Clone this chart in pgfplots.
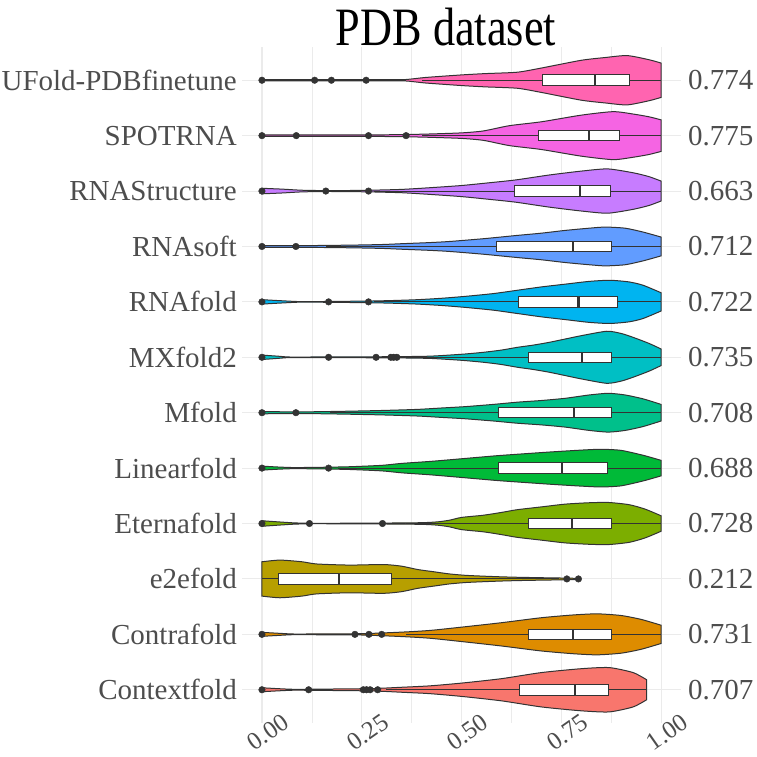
\documentclass[border=0pt]{standalone}
\usepackage{pgfplots}
\pgfplotsset{compat=1.18}
\usepackage{pgfplotstable}
\usepgfplotslibrary{fillbetween,statistics}
\usepackage{fontspec}
\setmainfont{Liberation Serif}
\definecolor{cA}{HTML}{F8766D}
\definecolor{cB}{HTML}{DE8C00}
\definecolor{cC}{HTML}{B79F00}
\definecolor{cD}{HTML}{7CAE00}
\definecolor{cE}{HTML}{00BA38}
\definecolor{cF}{HTML}{00C08B}
\definecolor{cG}{HTML}{00BFC4}
\definecolor{cH}{HTML}{00B4F0}
\definecolor{cI}{HTML}{619CFF}
\definecolor{cJ}{HTML}{C77CFF}
\definecolor{cK}{HTML}{F564E3}
\definecolor{cL}{HTML}{FF64B0}
\definecolor{txt}{HTML}{4D4D4D}
\definecolor{edge}{HTML}{333333}
\definecolor{gridc}{HTML}{EBEBEB}

% violin outlines: x, half-width w (in category units)
\pgfplotstableread{
x w
0 0.036
0.04 0.02
0.08 0.008
0.12 0.01
0.2 0.015
0.28 0.022
0.35 0.045
0.42 0.07
0.5 0.12
0.6 0.2
0.7 0.31
0.8 0.38
0.87 0.40
0.93 0.31
0.964 0.18
}\vA
\pgfplotstableread{
x w
0 0.036
0.04 0.02
0.08 0.006
0.15 0.008
0.25 0.012
0.35 0.04
0.42 0.07
0.5 0.13
0.6 0.21
0.7 0.30
0.78 0.35
0.84 0.37
0.9 0.34
0.95 0.27
1.0 0.165
}\vB
\pgfplotstableread{
x w
0 0.31
0.045 0.34
0.1 0.31
0.137 0.27
0.22 0.25
0.305 0.26
0.35 0.23
0.39 0.17
0.43 0.13
0.47 0.09
0.51 0.065
0.555 0.05
0.6 0.038
0.64 0.03
0.7 0.022
0.755 0.016
0.793 0.01
}\vC
\pgfplotstableread{
x w
0 0.05
0.04 0.03
0.08 0.012
0.12 0.004
0.2 0.005
0.3 0.008
0.4 0.015
0.44 0.03
0.47 0.06
0.5 0.11
0.555 0.15
0.6 0.2
0.64 0.25
0.7 0.3
0.76 0.35
0.82 0.375
0.868 0.38
0.92 0.34
0.96 0.26
1.0 0.14
}\vD
\pgfplotstableread{
x w
0 0.036
0.04 0.02
0.08 0.01
0.15 0.015
0.22 0.025
0.3 0.05
0.35 0.085
0.42 0.12
0.47 0.15
0.55 0.2
0.6 0.23
0.72 0.29
0.8 0.325
0.85 0.34
0.9 0.32
0.956 0.23
1.0 0.14
}\vE
\pgfplotstableread{
x w
0 0.02
0.1 0.015
0.2 0.025
0.3 0.04
0.39 0.06
0.45 0.085
0.51 0.11
0.58 0.15
0.64 0.19
0.7 0.22
0.76 0.26
0.82 0.32
0.868 0.35
0.91 0.32
0.955 0.25
1.0 0.15
}\vF
\pgfplotstableread{
x w
0 0.04
0.04 0.02
0.07 0.005
0.15 0.006
0.25 0.008
0.35 0.012
0.42 0.02
0.47 0.04
0.51 0.06
0.555 0.09
0.6 0.13
0.64 0.18
0.68 0.22
0.72 0.27
0.76 0.33
0.8 0.39
0.864 0.47
0.9 0.43
0.93 0.36
0.97 0.25
1.0 0.15
}\vG
\pgfplotstableread{
x w
0 0.04
0.05 0.02
0.1 0.004
0.17 0.008
0.27 0.015
0.33 0.025
0.39 0.04
0.45 0.065
0.51 0.10
0.58 0.15
0.64 0.21
0.7 0.27
0.76 0.32
0.82 0.37
0.872 0.39
0.92 0.36
0.955 0.30
1.0 0.165
}\vH
\pgfplotstableread{
x w
0 0.015
0.1 0.015
0.22 0.024
0.3 0.035
0.35 0.05
0.42 0.07
0.47 0.09
0.555 0.14
0.64 0.2
0.7 0.24
0.76 0.29
0.82 0.33
0.86 0.35
0.91 0.33
0.955 0.26
1.0 0.17
}\vI
\pgfplotstableread{
x w
0 0.05
0.05 0.035
0.1 0.015
0.16 0.008
0.22 0.01
0.27 0.015
0.35 0.03
0.42 0.06
0.5 0.1
0.57 0.15
0.635 0.2
0.72 0.29
0.8 0.36
0.866 0.40
0.93 0.33
0.97 0.26
1.0 0.18
}\vJ
\pgfplotstableread{
x w
0 0.012
0.1 0.012
0.2 0.012
0.3 0.015
0.361 0.02
0.42 0.03
0.5 0.05
0.555 0.085
0.62 0.18
0.7 0.25
0.8 0.37
0.88 0.433
0.93 0.39
0.97 0.34
1.0 0.285
}\vK
\pgfplotstableread{
x w
0 0.01
0.1 0.01
0.2 0.01
0.3 0.012
0.36 0.013
0.41 0.05
0.5 0.096
0.56 0.12
0.64 0.145
0.7 0.22
0.8 0.36
0.86 0.41
0.915 0.445
0.97 0.37
1.0 0.31
}\vL

\newcommand{\violin}[3]{%
  \addplot[draw=none, smooth, tension=0.4, name path=up#2] table[x=x, y expr=#2+\thisrow{w}] {#1};
  \addplot[draw=none, smooth, tension=0.4, name path=lo#2] table[x=x, y expr=#2-\thisrow{w}] {#1};
  \addplot[fill=#3, draw=edge, line width=1pt] fill between[of=up#2 and lo#2];
}
\newcommand{\bx}[6]{%
  \addplot[boxplot prepared={draw position=#1, lower whisker=#2, lower quartile=#3, median=#4, upper quartile=#5, upper whisker=#6, box extend=0.19, whisker extend=0}, fill=white, draw=edge, line width=1pt] coordinates {};
}

\begin{document}
\begin{tikzpicture}
\begin{axis}[
  name=main,
  scale only axis, width=439pt, height=676pt,
  xmin=-0.05, xmax=1.05, ymin=0.4, ymax=12.6,
  xtick={0,0.25,0.5,0.75,1}, xticklabels={0.00,0.25,0.50,0.75,1.00},
  minor xtick={0.125,0.375,0.625,0.875},
  ytick={1,2,3,4,5,6,7,8,9,10,11,12},
  yticklabels={Contextfold,Contrafold,e2efold,Eternafold,Linearfold,Mfold,MXfold2,RNAfold,RNAsoft,RNAStructure,SPOTRNA,UFold-PDBfinetune},
  xmajorgrids, xminorgrids, ymajorgrids,
  major grid style={draw=gridc, line width=1.1pt},
  minor grid style={draw=gridc, line width=0.6pt},
  axis line style={draw=none},
  major tick length=0pt, minor tick length=0pt,
  yticklabel style={font=\fontsize{29}{29}\selectfont, text=txt, inner sep=0pt, anchor=east, xshift=-5pt},
  xticklabel style={font=\fontsize{25}{25}\selectfont, text=txt, inner sep=0pt, anchor=center, xshift=6pt, yshift=-9pt, rotate=35},
  boxplot/draw direction=x,
  boxplot/every median/.style={line width=2.2pt},
  clip=false,
]
\violin{\vA}{1}{cA}
\violin{\vB}{2}{cB}
\violin{\vC}{3}{cC}
\violin{\vD}{4}{cD}
\violin{\vE}{5}{cE}
\violin{\vF}{6}{cF}
\violin{\vG}{7}{cG}
\violin{\vH}{8}{cH}
\violin{\vI}{9}{cI}
\violin{\vJ}{10}{cJ}
\violin{\vK}{11}{cK}
\violin{\vL}{12}{cL}

\bx{1}{0.31}{0.645}{0.785}{0.868}{0.964}
\bx{2}{0.36}{0.668}{0.779}{0.876}{1.0}
\bx{3}{0.0}{0.041}{0.194}{0.325}{0.745}
\bx{4}{0.36}{0.668}{0.776}{0.876}{1.0}
\bx{5}{0.19}{0.592}{0.751}{0.866}{1.0}
\bx{6}{0.17}{0.592}{0.782}{0.876}{1.0}
\bx{7}{0.36}{0.668}{0.801}{0.876}{1.0}
\bx{8}{0.28}{0.643}{0.793}{0.891}{1.0}
\bx{9}{0.16}{0.588}{0.779}{0.876}{1.0}
\bx{10}{0.28}{0.634}{0.797}{0.874}{1.0}
\bx{11}{0.40}{0.693}{0.82}{0.897}{1.0}
\bx{12}{0.40}{0.702}{0.835}{0.922}{1.0}

\addplot[only marks, mark=*, mark size=3.3pt, mark options={draw=edge, fill=edge}] coordinates {
(0,1) (0.117,1) (0.254,1) (0.262,1) (0.271,1) (0.29,1)
(0,2) (0.233,2) (0.268,2) (0.3,2)
(0.764,3) (0.793,3)
(0,4) (0.119,4) (0.302,4)
(0,5) (0.167,5)
(0,6) (0.085,6)
(0,7) (0.167,7) (0.286,7) (0.323,7) (0.33,7) (0.338,7)
(0,8) (0.167,8) (0.267,8)
(0,9) (0.085,9)
(0,10) (0.16,10) (0.267,10)
(0,11) (0.086,11) (0.267,11) (0.361,11)
(0,12) (0.132,12) (0.174,12) (0.261,12)
};
\end{axis}
\begin{axis}[
  scale only axis, width=439pt, height=676pt,
  xmin=-0.05, xmax=1.05, ymin=0.4, ymax=12.6,
  hide x axis,
  axis line style={draw=none},
  major tick length=0pt,
  ytick={1,2,3,4,5,6,7,8,9,10,11,12},
  yticklabels={0.707,0.731,0.212,0.728,0.688,0.708,0.735,0.722,0.712,0.663,0.775,0.774},
  yticklabel pos=right,
  yticklabel style={font=\fontsize{29}{29}\selectfont, text=txt, inner sep=0pt, anchor=west, xshift=7pt},
]
\addplot[draw=none] coordinates {(0,1)};
\end{axis}
\node[anchor=base, inner sep=0pt] at ([xshift=204pt,yshift=1pt]main.north west) {\scalebox{0.82}[1]{\fontsize{54}{54}\selectfont PDB dataset}};
\pgfresetboundingbox
\path ([xshift=-242pt,yshift=-34pt]main.south west) rectangle ([xshift=76pt,yshift=47pt]main.north east);
\end{tikzpicture}
\end{document}
